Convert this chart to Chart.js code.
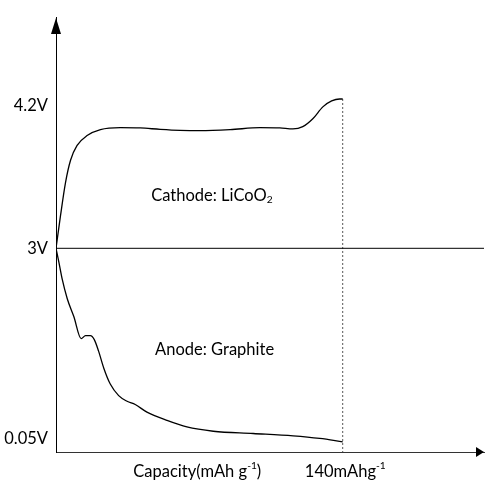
<!DOCTYPE html>
<html>
<head>
<meta charset="utf-8">
<script src="https://cdn.jsdelivr.net/npm/chart.js@4.4.1/dist/chart.umd.min.js"></script>
<style>
  html, body { margin: 0; padding: 0; background: #fff; }
  #wrap { width: 485px; height: 482px; }
</style>
</head>
<body>
<div id="wrap"><canvas id="myChart" width="485" height="482"></canvas></div>
<script>
// schematic chart: y is a drawing height, not a true voltage scale
const cathodeX = [0, 2.2, 4.6, 7.1, 10.3, 15.2, 21.7, 31.4, 41.1, 50.9, 60.6, 70.4, 85, 99.6, 109.3, 115.7, 120.5, 125.4, 130.3, 134.6, 138.5, 140];
const cathodeY = [206, 239, 272, 295, 310, 320, 326, 328, 327.7, 326.3, 325.3, 325, 326, 328, 327.7, 326.7, 329, 337, 349, 355, 357, 357];

const anodeX = [0, 1.4, 3.0, 5.5, 8.7, 12.3, 14.4, 16.8, 18.7, 20.8, 23.3, 26.5, 30.6, 34.7, 38.7, 44.4, 54.1, 63.9, 76.8, 96.3, 115.8, 128.8, 140];
const anodeY = [206, 192, 175, 155, 137, 114.7, 117.7, 117.7, 113.7, 102, 85, 68.7, 57, 51.3, 48, 40.3, 32, 25.3, 21, 18.7, 16.3, 13.7, 10.3];

const tickPos = [13, 206, 350];
const tickLabels = ['0.05V', '3V', '4.2V'];

const fullCapacity = 140;
const xMax = 209;
const yMax = 439;

const font = 'Lato, "Open Sans", sans-serif';
const fontSize = 16.5;

function pts(xs, ys) {
    return xs.map((x, i) => ({ x: x, y: ys[i] }));
}

// text with super/subscript pieces
function drawRich(c, parts, x, y, size) {
    let cx = x;
    parts.forEach(p => {
        let s = size, dy = 0;
        if (p.sup) { s = size * 0.62; dy = -size * 0.4; }
        if (p.sub) { s = size * 0.62; dy = size * 0.25; }
        c.font = s + 'px ' + font;
        c.fillText(p.t, cx, y + dy);
        cx += c.measureText(p.t).width;
    });
}

const extras = {
    id: 'extras',
    afterDraw(chart) {
        const c = chart.ctx;
        const a = chart.chartArea;
        const xs = chart.scales.x, ys = chart.scales.y;
        c.save();
        c.fillStyle = '#000';
        // arrow heads
        c.beginPath();
        c.moveTo(a.left, a.top);
        c.lineTo(a.left - 5, a.top + 16);
        c.lineTo(a.left + 5, a.top + 16);
        c.closePath();
        c.fill();
        c.beginPath();
        c.moveTo(a.right, a.bottom);
        c.lineTo(a.right - 8, a.bottom - 5);
        c.lineTo(a.right - 8, a.bottom + 5);
        c.closePath();
        c.fill();

        c.textBaseline = 'middle';
        c.textAlign = 'left';
        drawRich(c, [{ t: 'Cathode: LiCoO' }, { t: '2', sub: true }], xs.getPixelForValue(46.5), ys.getPixelForValue(259), fontSize);
        drawRich(c, [{ t: 'Anode: Graphite' }], xs.getPixelForValue(48.4), ys.getPixelForValue(103), fontSize);
        drawRich(c, [{ t: 'Capacity(mAh g' }, { t: '-1', sup: true }, { t: ')' }], xs.getPixelForValue(37.7), a.bottom + 20, fontSize);
        drawRich(c, [{ t: '140mAhg' }, { t: '-1', sup: true }], xs.getPixelForValue(121.5), a.bottom + 20, fontSize);
        c.restore();
    }
};

const ctx = document.getElementById('myChart').getContext('2d');

const myChart = new Chart(ctx, {
    type: 'line',
    data: {
        datasets: [
            {
                data: pts(cathodeX, cathodeY),
                borderColor: '#000',
                borderWidth: 1.3,
                cubicInterpolationMode: 'monotone'
            },
            {
                data: pts(anodeX, anodeY),
                borderColor: '#000',
                borderWidth: 1.3,
                cubicInterpolationMode: 'monotone'
            },
            {
                // 3V line
                data: [{ x: 0, y: tickPos[1] }, { x: xMax, y: tickPos[1] }],
                borderColor: '#000',
                borderWidth: 1
            },
            {
                // end of capacity
                data: [{ x: fullCapacity, y: cathodeY[cathodeY.length - 1] }, { x: fullCapacity, y: 0 }],
                borderColor: '#555',
                borderWidth: 1,
                borderDash: [2, 2]
            }
        ]
    },
    options: {
        responsive: false,
        animation: false,
        layout: { padding: { top: 13, right: 1, left: 0, bottom: 0 } },
        elements: { point: { radius: 0 } },
        plugins: { legend: { display: false }, tooltip: { enabled: false } },
        scales: {
            x: {
                type: 'linear',
                min: 0,
                max: xMax,
                grid: { display: false },
                border: { display: true, color: '#333', width: 1 },
                ticks: { display: false },
                afterFit: (s) => { s.height = 30; }
            },
            y: {
                min: 0,
                max: yMax,
                grid: { display: false, drawTicks: false },
                border: { display: true, color: '#000', width: 1 },
                afterBuildTicks: (s) => { s.ticks = tickPos.map(v => ({ value: v })); },
                afterFit: (s) => { s.width = 56; },
                ticks: {
                    padding: 8,
                    color: '#000',
                    font: { family: font, size: fontSize },
                    callback: (v) => tickLabels[tickPos.indexOf(v)]
                }
            }
        }
    },
    plugins: [extras]
});
</script>
</body>
</html>
